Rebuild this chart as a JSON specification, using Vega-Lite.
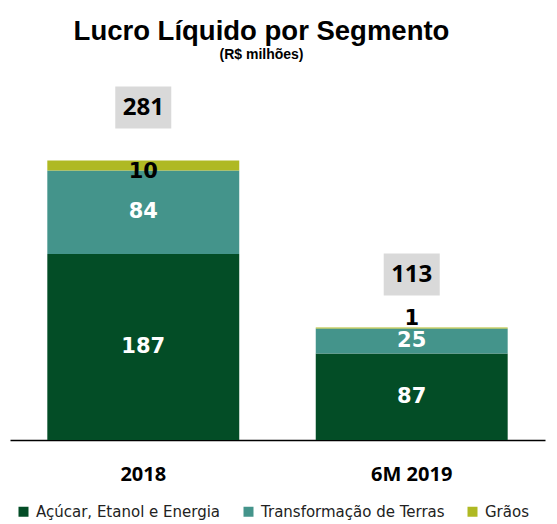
{
  "$schema": "https://vega.github.io/schema/vega-lite/v6.json",
  "width": 535,
  "height": 360,
  "autosize": "none",
  "padding": {"left": 10, "top": 80, "right": 12, "bottom": 84},
  "background": "white",
  "config": {"view": {"stroke": null}},
  "title": {
    "text": "Lucro Líquido por Segmento",
    "subtitle": "(R$ milhões)",
    "font": "Liberation Sans",
    "fontSize": 27.5,
    "fontWeight": "bold",
    "color": "black",
    "subtitleFont": "Liberation Sans",
    "subtitleFontSize": 14,
    "subtitleFontWeight": "bold",
    "subtitleColor": "black",
    "subtitlePadding": 3,
    "anchor": "middle",
    "dx": -16,
    "offset": 18
  },
  "data": {
    "values": [
      {"periodo": "2018", "segmento": "Açúcar, Etanol e Energia", "valor": 187, "ordem": 1},
      {"periodo": "2018", "segmento": "Transformação de Terras", "valor": 84, "ordem": 2},
      {"periodo": "2018", "segmento": "Grãos", "valor": 10, "ordem": 3},
      {"periodo": "6M 2019", "segmento": "Açúcar, Etanol e Energia", "valor": 87, "ordem": 1},
      {"periodo": "6M 2019", "segmento": "Transformação de Terras", "valor": 25, "ordem": 2},
      {"periodo": "6M 2019", "segmento": "Grãos", "valor": 1, "ordem": 3}
    ]
  },
  "transform": [
    {"stack": "valor", "groupby": ["periodo"], "sort": [{"field": "ordem", "order": "ascending"}], "as": ["v0", "v1"]},
    {"calculate": "(datum.v0 + datum.v1) / 2", "as": "vmid"}
  ],
  "encoding": {
    "x": {
      "field": "periodo",
      "type": "nominal",
      "sort": ["2018", "6M 2019"],
      "scale": {"paddingInner": 0.285, "paddingOuter": 0.139},
      "axis": {
        "title": null,
        "domain": true,
        "domainColor": "black",
        "domainWidth": 1.5,
        "ticks": false,
        "grid": false,
        "labelAngle": 0,
        "labelFont": "Open Sans",
        "labelFontWeight": "bold",
        "labelFontSize": 20,
        "labelColor": "black",
        "labelPadding": 24
      }
    }
  },
  "layer": [
    {
      "mark": {"type": "bar"},
      "encoding": {
        "y": {"field": "v1", "type": "quantitative", "scale": {"domain": [0, 362], "nice": false, "zero": true}, "axis": null},
        "y2": {"field": "v0"},
        "color": {
          "field": "segmento",
          "type": "nominal",
          "scale": {
            "domain": ["Açúcar, Etanol e Energia", "Transformação de Terras", "Grãos"],
            "range": ["#034d26", "#44948b", "#afb923"]
          },
          "legend": {
            "title": null,
            "orient": "none",
            "direction": "horizontal",
            "legendX": 6,
            "legendY": 424,
            "padding": 0,
            "symbolType": "square",
            "symbolSize": 100,
            "symbolStrokeWidth": 0,
            "labelFont": "DejaVu Sans",
            "labelFontSize": 15,
            "labelColor": "#222222",
            "labelOffset": 5,
            "labelLimit": 0,
            "columnPadding": 20
          }
        }
      }
    },
    {
      "transform": [{"filter": "datum.segmento !== 'Grãos'"}],
      "mark": {"type": "text", "font": "DejaVu Sans", "fontWeight": "bold", "fontSize": 21, "color": "white", "baseline": "middle"},
      "encoding": {
        "y": {"field": "vmid", "type": "quantitative", "axis": null},
        "text": {"field": "valor", "type": "quantitative"}
      }
    },
    {
      "transform": [{"filter": "datum.segmento === 'Grãos' && datum.periodo === '2018'"}],
      "mark": {"type": "text", "font": "DejaVu Sans", "fontWeight": "bold", "fontSize": 21, "color": "black", "baseline": "middle", "dy": 6},
      "encoding": {
        "y": {"field": "vmid", "type": "quantitative", "axis": null},
        "text": {"field": "valor", "type": "quantitative"}
      }
    },
    {
      "transform": [{"filter": "datum.segmento === 'Grãos' && datum.periodo === '6M 2019'"}],
      "mark": {"type": "text", "font": "DejaVu Sans", "fontWeight": "bold", "fontSize": 21, "color": "black", "baseline": "middle", "dy": -9},
      "encoding": {
        "y": {"field": "vmid", "type": "quantitative", "axis": null},
        "text": {"field": "valor", "type": "quantitative"}
      }
    },
    {
      "transform": [{"aggregate": [{"op": "sum", "field": "valor", "as": "total"}], "groupby": ["periodo"]}],
      "mark": {"type": "point", "shape": "M-1,-0.75H1V0.75H-1Z", "size": 3136, "filled": true, "color": "#d9d9d9", "opacity": 1, "yOffset": -53},
      "encoding": {
        "y": {"field": "total", "type": "quantitative", "axis": null}
      }
    },
    {
      "transform": [{"aggregate": [{"op": "sum", "field": "valor", "as": "total"}], "groupby": ["periodo"]}],
      "mark": {"type": "text", "font": "Open Sans", "fontWeight": "bold", "fontSize": 24, "color": "black", "baseline": "middle", "dy": -53},
      "encoding": {
        "y": {"field": "total", "type": "quantitative", "axis": null},
        "text": {"field": "total", "type": "quantitative"}
      }
    }
  ]
}
